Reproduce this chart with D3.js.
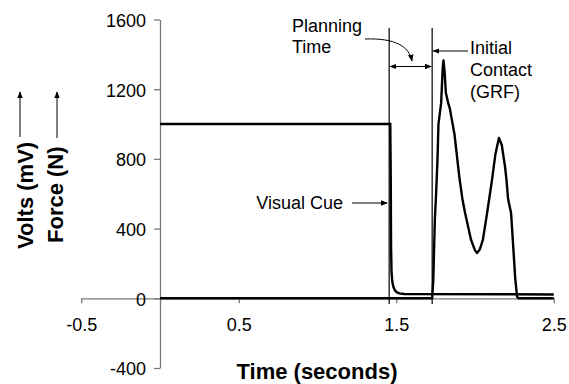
<!DOCTYPE html>
<html>
<head>
<meta charset="utf-8">
<script src="https://cdn.jsdelivr.net/npm/d3@7"></script>
<style>
    body { margin: 0; background: #fff; }
    svg { font-family: "Liberation Sans", Arial, sans-serif; }
</style>
</head>
<body>
<div id="chart"></div>
<script>
// data
var xTicks = [ -0.5, 0.5, 1.5, 2.5 ];
var yTicks = [ -400, 0, 400, 800, 1200, 1600 ];

// visual cue signal (mV)
var voltsTime  = [ 0, 1.462, 1.465, 1.467, 1.470, 1.475, 1.482, 1.492, 1.505, 1.52, 1.55, 2.5 ];
var voltsValue = [ 1000, 1000, 700, 300, 150, 95, 65, 45, 34, 28, 25, 22 ];

// ground reaction force (N)
var forceTime  = [ 0, 1.728, 1.735, 1.745, 1.753, 1.762, 1.768, 1.775, 1.785, 1.795, 1.80, 1.807, 1.815, 1.83, 1.84,
                   1.87, 1.90, 1.92, 1.937, 1.975, 2.0, 2.013, 2.03, 2.05, 2.077, 2.108, 2.13, 2.152, 2.17,
                   2.19, 2.20, 2.21, 2.229, 2.24, 2.255, 2.267, 2.275, 2.5 ];
var forceValue = [ 0, 0, 100, 450, 600, 800, 1000, 1050, 1120, 1320, 1365, 1300, 1180, 1120, 1090,
                   940, 700, 570, 490, 335, 275, 260, 280, 335, 490, 680, 830, 920, 880,
                   760, 680, 570, 490, 335, 120, 10, 0, 0 ];

var cueTime = 1.455,
    contactTime = 1.728;

(function() {
    var width = 569,
        height = 384;

    var svg = d3.select("#chart")
        .append("svg")
            .attr("width", width)
            .attr("height", height);

    var defs = svg.append("defs");
    defs.append("marker")
        .attr("id", "arrow")
        .attr("viewBox", "0 0 10 10")
        .attr("refX", 9)
        .attr("refY", 5)
        .attr("markerWidth", 7)
        .attr("markerHeight", 7)
        .attr("markerUnits", "userSpaceOnUse")
        .attr("orient", "auto-start-reverse")
      .append("path")
        .attr("d", "M0,1 L10,5 L0,9 Z")
        .attr("fill", "#000");

    // scales
    var x = d3.scaleLinear().domain([-0.5, 2.5]).range([81.25, 553.75]);
    var y = d3.scaleLinear().domain([-400, 1600]).range([368, 19.5]);

    // plain hyphen for negatives, like the original
    var fmt = function(f) {
        return d => f(d).replace("\u2212", "-");
    }

    // axes
    var xAxisCall = d3.axisBottom(x)
        .tickValues(xTicks)
        .tickSize(5)
        .tickSizeOuter(0)
        .tickPadding(15)
        .tickFormat(fmt(d3.format(".1f")));

    var xAxisGroup = svg.append("g")
        .attr("transform", "translate(0, " + y(0) + ")")
        .call(xAxisCall);

    var yAxisCall = d3.axisLeft(y)
        .tickValues(yTicks)
        .tickSize(6)
        .tickSizeOuter(0)
        .tickPadding(8)
        .tickFormat(fmt(d3.format("d")));

    var yAxisGroup = svg.append("g")
        .attr("transform", "translate(" + x(0) + ", 0)")
        .call(yAxisCall);

    [xAxisGroup, yAxisGroup].forEach( g => {
        g.selectAll("path, line").attr("stroke", "#7a7a7a").attr("stroke-width", 1.3);
        g.selectAll("text").attr("fill", "#000").attr("font-size", "18px")
            .attr("font-family", "Liberation Sans, Arial, sans-serif");
    });
    yAxisGroup.selectAll("text").attr("dy", "0.38em");
    xAxisGroup.selectAll("text").attr("dy", "0.71em");

    // annotation verticals
    [cueTime, contactTime].forEach( t => {
        svg.append("line")
            .attr("x1", x(t)).attr("x2", x(t))
            .attr("y1", 28).attr("y2", 304)
            .attr("stroke", "#000")
            .attr("stroke-width", 1.2);
    });

    // series
    var line = d3.line()
        .x(d => x(d[0]))
        .y(d => y(d[1]));

    var volts = voltsTime.map( (t, i) => [t, voltsValue[i]] ),
        force = forceTime.map( (t, i) => [t, forceValue[i]] );

    svg.append("path")
        .datum(volts)
        .attr("d", line)
        .attr("fill", "none")
        .attr("stroke", "#000")
        .attr("stroke-width", 2.4);

    svg.append("path")
        .datum(force)
        .attr("d", line)
        .attr("fill", "none")
        .attr("stroke", "#000")
        .attr("stroke-width", 2.4)
        .attr("stroke-linejoin", "round");

    // annotations
    var note = function(tx, ty, str) {
        svg.append("text")
            .attr("x", tx)
            .attr("y", ty)
            .attr("font-size", "18px")
            .text(str);
    }

    note(292, 32, "Planning");
    note(292, 53, "Time");
    note(470, 54, "Initial");
    note(470, 76, "Contact");
    note(470, 98, "(GRF)");

    svg.append("text")
        .attr("x", 343)
        .attr("y", 209)
        .attr("text-anchor", "end")
        .attr("font-size", "18px")
        .text("Visual Cue");

    var arrow = function(x1, y1, x2, y2, both) {
        var l = svg.append("line")
            .attr("x1", x1).attr("y1", y1)
            .attr("x2", x2).attr("y2", y2)
            .attr("stroke", "#000")
            .attr("stroke-width", 1)
            .attr("marker-end", "url(#arrow)");
        if ( both ) l.attr("marker-start", "url(#arrow)");
    }

    arrow(352, 203, x(cueTime) - 2, 203);
    arrow(468, 51, x(contactTime) + 1, 51);
    arrow(x(cueTime) + 1, 66.5, x(contactTime) - 1, 66.5, true);

    svg.append("path")
        .attr("d", "M365,39 C395,38 409,46 412,61")
        .attr("fill", "none")
        .attr("stroke", "#000")
        .attr("stroke-width", 1)
        .attr("marker-end", "url(#arrow)");

    // axis titles
    svg.append("text")
        .attr("x", 317)
        .attr("y", 379)
        .attr("text-anchor", "middle")
        .attr("font-size", "22px")
        .attr("font-weight", "bold")
        .text("Time (seconds)");

    svg.append("text")
        .attr("transform", "translate(33, 249) rotate(-90)")
        .attr("font-size", "22px")
        .attr("font-weight", "bold")
        .text("Volts (mV)");

    svg.append("text")
        .attr("transform", "translate(63, 243) rotate(-90)")
        .attr("font-size", "22px")
        .attr("font-weight", "bold")
        .text("Force (N)");

    arrow(20, 137, 20, 92);
    arrow(57, 138, 57, 92);
}());
</script>
</body>
</html>
